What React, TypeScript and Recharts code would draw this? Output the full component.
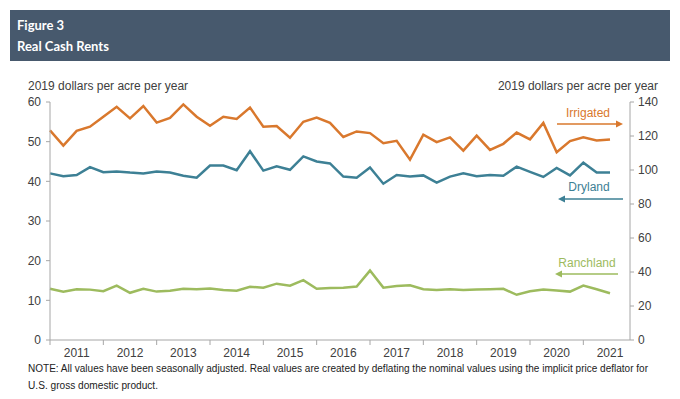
import React from 'react'
import { LineChart, Line, XAxis, YAxis } from 'recharts'

// quarterly observations, 2011 Q1 onward
const years = ['2011', '2012', '2013', '2014', '2015', '2016', '2017', '2018', '2019', '2020', '2021']

// right axis (irrigated)
const irrigated = [
    123.3, 114.4, 123.0, 125.5, 131.3, 137.2, 130.4, 137.6, 127.9, 130.7, 138.6, 131.3,
    126.0, 131.3, 130.0, 136.7, 125.5, 125.9, 119.0, 128.4, 130.8, 127.7, 119.4, 122.7,
    121.7, 115.8, 117.2, 106.1, 120.8, 116.4, 119.2, 111.4, 120.2, 111.8, 115.4, 122.0,
    118.0, 127.7, 110.4, 117.0, 119.2, 117.4, 118.0,
]

// left axis
const dryland = [
    42.0, 41.3, 41.6, 43.6, 42.3, 42.5, 42.2, 42.0, 42.5, 42.2, 41.4, 40.9,
    44.0, 44.0, 42.8, 47.6, 42.7, 43.8, 42.9, 46.3, 45.0, 44.5, 41.2, 40.9,
    43.5, 39.4, 41.6, 41.2, 41.5, 39.7, 41.2, 42.0, 41.3, 41.6, 41.4, 43.7,
    42.4, 41.1, 43.4, 41.5, 44.7, 42.2, 42.2,
]

const ranchland = [
    12.9, 12.2, 12.8, 12.7, 12.3, 13.7, 11.9, 12.9, 12.2, 12.4, 12.9, 12.8,
    13.0, 12.6, 12.4, 13.4, 13.2, 14.2, 13.7, 15.1, 12.9, 13.1, 13.2, 13.5,
    17.5, 13.2, 13.6, 13.8, 12.8, 12.6, 12.8, 12.6, 12.7, 12.8, 12.9, 11.4,
    12.3, 12.7, 12.5, 12.2, 13.7, 12.8, 11.8,
]

const leftTicks = [0, 10, 20, 30, 40, 50, 60]
const rightTicks = [0, 20, 40, 60, 80, 100, 120, 140]

const data = irrigated.map((v, i) => ({
    q: i,
    irrigated: v,
    dryland: dryland[i],
    ranchland: ranchland[i],
}))

// year boundaries every 4 quarters, labels in between
const xTicks = years.flatMap((_, k) => [k * 4, k * 4 + 2])

const ORANGE = '#D9782D'
const TEAL = '#3D8095'
const GREEN = '#9DBB5E'
const AXIS = '#A6A6A6'
const TICKTXT = '#404040'
const FONT = '"Liberation Sans", Arial, sans-serif'

function YearTick(props: any) {
    const { x, y, payload } = props
    const v = payload.value
    if (v % 4 === 0) {
        return <line x1={x} x2={x} y1={y} y2={y + 5} stroke={AXIS} />
    }
    const yr = years[(v - 2) / 4]
    return (
        <text x={x} y={y + 17} textAnchor="middle" fontSize={12} fill={TICKTXT} fontFamily={FONT}>
            {yr}
        </text>
    )
}

function Arrow({ x1, x2, y, color }: { x1: number; x2: number; y: number; color: string }) {
    const dir = x2 > x1 ? 1 : -1
    return (
        <g>
            <line x1={x1} x2={x2 - dir * 5} y1={y} y2={y} stroke={color} strokeWidth={1.3} />
            <polygon points={`${x2},${y} ${x2 - dir * 7},${y - 3.5} ${x2 - dir * 7},${y + 3.5}`} fill={color} />
        </g>
    )
}

export default function App() {
    return (
        <div style={{ position: 'absolute', left: 0, top: 0, width: 680, height: 399, background: '#fff', fontFamily: FONT }}>
            <div
                style={{
                    position: 'absolute', left: 10, top: 10, width: 660, height: 51,
                    background: '#47596D', color: '#fff', fontFamily: 'Lato, sans-serif',
                    fontWeight: 700, fontSize: 13, lineHeight: '21px', padding: '5px 0 0 7px', boxSizing: 'border-box',
                }}
            >
                <div>Figure 3</div>
                <div>Real Cash Rents</div>
            </div>

            <LineChart width={680} height={399} data={data} margin={{ top: 102, right: 10, bottom: 39, left: 10 }}>
                <XAxis
                    dataKey="q"
                    type="number"
                    domain={[0, 43.5]}
                    ticks={xTicks}
                    interval={0}
                    tick={<YearTick />}
                    tickLine={false}
                    tickSize={0}
                    tickMargin={0}
                    height={20}
                    stroke={AXIS}
                    xAxisId="x"
                />
                <YAxis
                    yAxisId="left"
                    domain={[0, 60]}
                    ticks={leftTicks}
                    width={40}
                    tickSize={4}
                    tickMargin={5}
                    stroke={AXIS}
                    tick={{ fill: TICKTXT, fontSize: 12, fontFamily: FONT }}
                />
                <YAxis
                    yAxisId="right"
                    orientation="right"
                    domain={[0, 140]}
                    ticks={rightTicks}
                    width={40}
                    tickSize={4}
                    tickMargin={4}
                    stroke={AXIS}
                    tick={{ fill: TICKTXT, fontSize: 12, fontFamily: FONT, textAnchor: 'start' }}
                />
                <Line xAxisId="x" yAxisId="right" dataKey="irrigated" stroke={ORANGE} strokeWidth={2.5} dot={false} isAnimationActive={false} />
                <Line xAxisId="x" yAxisId="left" dataKey="dryland" stroke={TEAL} strokeWidth={2.5} dot={false} isAnimationActive={false} />
                <Line xAxisId="x" yAxisId="left" dataKey="ranchland" stroke={GREEN} strokeWidth={2.5} dot={false} isAnimationActive={false} />
            </LineChart>

            <svg width={680} height={399} style={{ position: 'absolute', left: 0, top: 0, pointerEvents: 'none' }}>
                <text x={28} y={90} fontSize={12} fill={TICKTXT} fontFamily={FONT}>2019 dollars per acre per year</text>
                <text x={658} y={90} fontSize={12} fill={TICKTXT} fontFamily={FONT} textAnchor="end">2019 dollars per acre per year</text>

                <text x={588} y={117} fontSize={12} fill={ORANGE} fontFamily={FONT} textAnchor="middle">Irrigated</text>
                <Arrow x1={557} x2={623} y={124} color={ORANGE} />

                <text x={589} y={191} fontSize={12} fill={TEAL} fontFamily={FONT} textAnchor="middle">Dryland</text>
                <Arrow x1={623} x2={558} y={199} color={TEAL} />

                <text x={587} y={267} fontSize={12} fill={GREEN} fontFamily={FONT} textAnchor="middle">Ranchland</text>
                <Arrow x1={618} x2={555} y={274} color={GREEN} />

                <text x={28} y={372} fontSize={10} fill="#222" fontFamily={FONT} textLength={620} lengthAdjust="spacingAndGlyphs">
                    NOTE: All values have been seasonally adjusted. Real values are created by deflating the nominal values using the implicit price deflator for
                </text>
                <text x={28} y={389} fontSize={10} fill="#222" fontFamily={FONT} textLength={130} lengthAdjust="spacingAndGlyphs">
                    U.S. gross domestic product.
                </text>
            </svg>
        </div>
    )
}
